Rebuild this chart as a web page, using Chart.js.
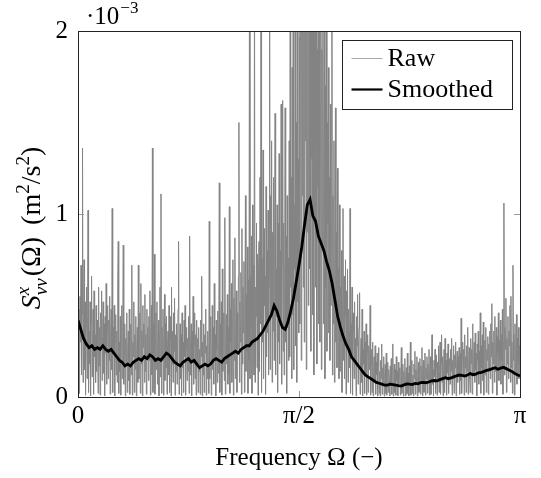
<!DOCTYPE html>
<html>
<head>
<meta charset="utf-8">
<script src="https://cdn.jsdelivr.net/npm/chart.js@4.4.0/dist/chart.umd.min.js"></script>
<style>
  html, body { margin: 0; padding: 0; background: #fff; }
</style>
</head>
<body>
<canvas id="psdChart" width="541" height="478"></canvas>
<script>
// values are in units of 1e-3 m^2/s^2, evenly spaced from 0 to pi
const rawPsd = [
  0.62, 0.20, 0.48, 0.02, 0.55, 0.30, 0.72, 0.12, 0.45, 1.36, 0.08, 0.40, 0.75, 0.15, 0.52, 0.01, 0.38, 0.60, 0.10, 0.44,
  1.02, 0.025, 0.36, 0.18, 0.52, 0.006, 0.40, 0.66, 0.11, 0.30, 0.48, 0.015, 0.58, 0.22, 0.34, 0.08, 0.50, 0.14, 0.42, 0.26,
  0.02, 0.60, 0.17, 0.38, 0.01, 0.46, 0.28, 0.58, 0.09, 0.33, 0.52, 0.13, 0.40, 0.006, 0.44, 0.24, 0.62, 0.07, 0.36, 0.50,
  0.10, 0.42, 0.20, 0.55, 0.015, 0.34, 0.48, 0.15, 1.03, 0.025, 0.38, 0.26, 0.50, 0.006, 0.30, 0.45, 0.12, 0.36, 0.08, 0.58,
  0.85, 0.02, 0.30, 0.14, 0.44, 0.01, 0.28, 0.50, 0.10, 0.35, 0.83, 0.07, 0.24, 0.40, 0.006, 0.32, 0.18, 0.46, 0.025, 0.26,
  0.36, 0.09, 0.48, 0.015, 0.28, 0.40, 0.12, 0.72, 0.01, 0.30, 0.22, 0.52, 0.025, 0.34, 0.15, 0.44, 0.006, 0.26, 0.38, 0.08,
  0.72, 0.10, 0.32, 0.46, 0.02, 0.62, 0.18, 0.36, 0.006, 0.50, 0.27, 0.40, 0.08, 0.56, 0.14, 0.34, 0.015, 0.48, 0.22, 0.38,
  0.09, 0.44, 0.20, 0.58, 0.01, 0.36, 0.50, 0.12, 1.36, 0.025, 0.40, 0.24, 0.78, 0.015, 0.32, 0.46, 0.15, 0.52, 0.07, 0.30,
  0.42, 0.006, 0.34, 0.60, 0.11, 1.11, 0.02, 0.38, 0.20, 0.48, 0.01, 0.30, 0.56, 0.09, 0.40, 0.16, 0.44, 0.015, 0.28, 0.36,
  0.12, 0.50, 0.025, 0.32, 0.44, 0.006, 0.60, 0.18, 0.36, 0.08, 0.46, 0.25, 0.54, 0.01, 0.34, 0.14, 0.40, 0.07, 0.30, 0.48,
  0.85, 0.015, 0.28, 0.40, 0.10, 0.34, 0.006, 0.46, 0.16, 0.30, 0.025, 0.42, 0.22, 0.50, 0.01, 0.26, 0.38, 0.09, 0.32, 0.14,
  0.44, 0.02, 0.88, 0.12, 0.30, 0.40, 0.006, 0.36, 0.20, 0.55, 0.07, 0.28, 0.46, 0.10, 0.34, 0.01, 0.42, 0.18, 0.32, 0.025,
  0.38, 0.14, 0.26, 0.015, 0.42, 0.22, 0.66, 0.006, 0.30, 0.12, 0.40, 0.025, 0.34, 0.24, 0.48, 0.01, 0.28, 0.10, 0.36, 0.18,
  0.02, 0.96, 0.10, 0.32, 0.44, 0.01, 0.28, 0.50, 0.15, 0.38, 0.07, 0.62, 0.20, 0.34, 0.006, 0.42, 0.26, 0.08, 0.47, 0.13,
  0.36, 1.17, 0.025, 0.40, 0.22, 0.52, 0.01, 0.70, 0.14, 0.34, 0.46, 0.09, 0.98, 0.015, 0.30, 0.45, 0.18, 0.56, 0.07, 0.38,
  0.12, 1.04, 0.02, 0.48, 0.30, 0.62, 0.08, 0.42, 0.75, 0.01, 0.54, 0.20, 0.87, 0.10, 0.40, 0.58, 0.025, 0.46, 0.26, 0.66,
  1.50, 0.08, 0.52, 0.30, 0.68, 0.015, 0.92, 0.18, 0.60, 0.35, 0.74, 0.025, 0.48, 1.10, 0.14, 0.56, 0.25, 0.82, 0.02, 0.64,
  0.20, 2.40, 0.10, 0.66, 0.38, 0.88, 0.02, 1.05, 0.28, 0.72, 0.12, 2.30, 0.08, 0.60, 0.44, 0.95, 0.16, 0.78, 0.01, 0.70,
  0.85, 0.14, 1.20, 0.40, 2.50, 0.025, 0.76, 0.30, 1.35, 0.10, 0.92, 0.50, 0.66, 0.015, 1.15, 0.22, 0.80, 0.35, 1.02, 0.12,
  0.60, 2.60, 0.15, 1.10, 0.48, 1.40, 0.08, 0.90, 0.36, 1.20, 0.20, 0.82, 1.55, 0.12, 0.70, 0.44, 1.05, 0.025, 0.95, 0.30,
  1.33, 0.18, 0.80, 0.42, 1.60, 0.07, 0.72, 1.62, 0.25, 0.95, 0.12, 0.68, 1.58, 0.30, 0.88, 0.02, 1.10, 0.38, 0.76, 0.20,
  1.40, 0.22, 2.50, 0.60, 1.20, 0.10, 1.80, 0.45, 3.00, 0.15, 1.05, 0.70, 2.20, 0.28, 1.50, 0.08, 2.40, 0.52, 1.30, 0.35,
  3.20, 0.40, 1.80, 2.60, 0.20, 3.50, 1.10, 2.20, 0.60, 3.80, 0.30, 2.70, 1.40, 3.10, 0.15, 2.40, 0.90, 3.60, 0.50, 2.00,
  2.90, 0.70, 3.40, 0.25, 2.10, 1.30, 3.00, 0.45, 2.50, 0.12, 3.30, 0.95, 2.30, 0.60, 2.80, 0.18, 1.90, 1.15, 3.20, 0.40,
  2.40, 0.30, 1.60, 2.70, 0.15, 1.90, 0.80, 2.20, 0.40, 1.40, 2.50, 0.10, 1.70, 0.60, 2.10, 0.25, 1.50, 0.95, 1.80, 0.35,
  1.20, 0.20, 1.60, 0.50, 0.95, 2.20, 0.12, 1.10, 0.40, 1.40, 0.08, 0.80, 1.58, 0.30, 0.90, 0.16, 1.25, 0.45, 0.70, 0.10,
  1.05, 0.14, 0.60, 0.30, 0.80, 0.025, 0.52, 1.03, 0.20, 0.66, 0.10, 0.44, 0.75, 0.015, 0.58, 0.26, 0.70, 0.08, 0.48, 0.36,
  0.16, 1.03, 0.02, 0.40, 0.24, 0.60, 0.01, 0.36, 0.46, 0.10, 0.52, 0.18, 0.32, 0.006, 0.44, 0.28, 0.56, 0.07, 0.30, 0.38,
  0.57, 0.015, 0.22, 0.32, 0.08, 0.48, 0.006, 0.26, 0.18, 0.36, 0.02, 0.30, 0.12, 0.40, 0.01, 0.24, 0.34, 0.025, 0.28, 0.15,
  0.20, 0.50, 0.01, 0.18, 0.26, 0.025, 0.30, 0.006, 0.16, 0.22, 0.08, 0.28, 0.015, 0.19, 0.12, 0.24, 0.005, 0.17, 0.27, 0.02,
  0.14, 0.006, 0.20, 0.10, 0.29, 0.015, 0.16, 0.08, 0.22, 0.005, 0.13, 0.18, 0.02, 0.24, 0.01, 0.12, 0.19, 0.025, 0.15, 0.09,
  0.006, 0.17, 0.08, 0.21, 0.015, 0.13, 0.29, 0.005, 0.11, 0.18, 0.025, 0.15, 0.01, 0.22, 0.09, 0.14, 0.006, 0.19, 0.07, 0.12,
  0.16, 0.01, 0.12, 0.27, 0.02, 0.10, 0.18, 0.005, 0.14, 0.07, 0.21, 0.006, 0.11, 0.16, 0.015, 0.24, 0.025, 0.13, 0.006, 0.17,
  0.08, 0.30, 0.01, 0.14, 0.20, 0.02, 0.12, 0.006, 0.18, 0.10, 0.25, 0.015, 0.15, 0.07, 0.22, 0.005, 0.13, 0.19, 0.025, 0.16,
  0.21, 0.015, 0.17, 0.09, 0.27, 0.006, 0.14, 0.20, 0.025, 0.12, 0.24, 0.01, 0.16, 0.10, 0.22, 0.02, 0.18, 0.08, 0.26, 0.01,
  0.13, 0.22, 0.015, 0.18, 0.34, 0.07, 0.15, 0.006, 0.20, 0.11, 0.26, 0.02, 0.16, 0.23, 0.01, 0.19, 0.09, 0.28, 0.025, 0.14,
  0.30, 0.015, 0.18, 0.34, 0.08, 0.22, 0.006, 0.15, 0.26, 0.025, 0.32, 0.11, 0.20, 0.01, 0.24, 0.13, 0.29, 0.02, 0.17, 0.21,
  0.07, 0.26, 0.14, 0.32, 0.01, 0.20, 0.10, 0.28, 0.02, 0.23, 0.16, 0.30, 0.006, 0.18, 0.25, 0.08, 0.22, 0.12, 0.27, 0.015,
  0.24, 0.09, 0.43, 0.02, 0.20, 0.30, 0.12, 0.26, 0.01, 0.34, 0.16, 0.22, 0.025, 0.28, 0.14, 0.38, 0.015, 0.19, 0.27, 0.10,
  0.025, 0.32, 0.18, 0.26, 0.015, 0.40, 0.12, 0.22, 0.30, 0.08, 0.35, 0.15, 0.24, 0.006, 0.29, 0.20, 0.36, 0.07, 0.25, 0.13,
  0.46, 0.02, 0.28, 0.16, 0.34, 0.09, 0.41, 0.01, 0.24, 0.31, 0.12, 0.38, 0.025, 0.26, 0.20, 0.33, 0.015, 0.29, 0.14, 0.36,
  0.10, 0.40, 0.22, 0.51, 0.02, 0.30, 0.18, 0.36, 0.08, 0.44, 0.14, 0.28, 0.38, 0.01, 0.33, 0.24, 0.46, 0.09, 0.31, 0.20,
  0.42, 0.07, 0.34, 0.20, 0.48, 0.015, 0.30, 1.06, 0.12, 0.38, 0.26, 0.54, 0.025, 0.32, 0.18, 0.44, 0.10, 0.36, 0.28, 0.50,
  0.08, 0.55, 0.16, 0.30, 0.02, 0.72, 0.20, 0.34, 0.01, 0.40, 0.14, 0.26, 0.45, 0.07, 0.32, 0.18, 0.38, 0.10, 0.28, 0.22
];

// smoothed estimate, also evenly spaced from 0 to pi
const smoothPsd = [
  0.42, 0.37, 0.32, 0.29, 0.27, 0.28, 0.26, 0.27, 0.26, 0.28,
  0.26, 0.25, 0.26, 0.24, 0.22, 0.20, 0.19, 0.17, 0.18, 0.17,
  0.19, 0.20, 0.21, 0.20, 0.22, 0.21, 0.23, 0.22, 0.20, 0.21,
  0.20, 0.22, 0.24, 0.23, 0.21, 0.19, 0.18, 0.17, 0.19, 0.20,
  0.21, 0.19, 0.20, 0.18, 0.16, 0.17, 0.18, 0.17, 0.18, 0.20,
  0.21, 0.20, 0.19, 0.21, 0.22, 0.23, 0.24, 0.25, 0.24, 0.26,
  0.27, 0.28, 0.28, 0.30, 0.31, 0.32, 0.34, 0.36, 0.39, 0.42,
  0.45, 0.50, 0.47, 0.42, 0.38, 0.37, 0.41, 0.47, 0.54, 0.63,
  0.72, 0.82, 0.94, 1.05, 1.08, 0.99, 0.96, 0.88, 0.84, 0.80,
  0.74, 0.69, 0.62, 0.53, 0.44, 0.38, 0.33, 0.29, 0.26, 0.22,
  0.20, 0.18, 0.16, 0.14, 0.12, 0.11, 0.10, 0.09, 0.08, 0.075,
  0.07, 0.065, 0.065, 0.07, 0.068, 0.065, 0.062, 0.060, 0.066, 0.072,
  0.070, 0.068, 0.074, 0.072, 0.078, 0.080, 0.078, 0.082, 0.088, 0.090,
  0.088, 0.095, 0.100, 0.105, 0.100, 0.104, 0.110, 0.116, 0.120, 0.118,
  0.114, 0.120, 0.128, 0.122, 0.125, 0.132, 0.135, 0.140, 0.146, 0.150,
  0.155, 0.160, 0.152, 0.158, 0.162, 0.155, 0.148, 0.140, 0.130, 0.122,
  0.115
];

const xTicks = [0, Math.PI / 2, Math.PI];
const xTickLabels = ['0', 'π/2', 'π'];
const yTicks = [0, 1, 2];

const serif = '"Liberation Serif", "DejaVu Serif", serif';

const toPoints = arr => arr.map((v, i) => ({ x: i * Math.PI / (arr.length - 1), y: v }));

// frame, inner ticks, legend box, exponent and y title
const decorPlugin = {
  id: 'decor',
  afterDraw(chart) {
    const c = chart.ctx;
    const a = chart.chartArea;
    const xs = chart.scales.x, ys = chart.scales.y;
    c.save();

    // inner tick marks
    c.strokeStyle = '#9a9a9a';
    c.lineWidth = 1;
    c.beginPath();
    yTicks.forEach(t => {
      const py = Math.round(ys.getPixelForValue(t)) + 0.5;
      c.moveTo(a.left, py); c.lineTo(a.left + 6, py);
      c.moveTo(a.right, py); c.lineTo(a.right - 6, py);
    });
    xTicks.forEach(t => {
      const px = Math.round(xs.getPixelForValue(t)) + 0.5;
      c.moveTo(px, a.bottom); c.lineTo(px, a.bottom - 6);
      c.moveTo(px, a.top); c.lineTo(px, a.top + 6);
    });
    c.stroke();

    // frame
    c.strokeStyle = '#222';
    c.strokeRect(Math.round(a.left) + 0.5, Math.round(a.top) + 0.5,
      Math.round(a.right - a.left), Math.round(a.bottom - a.top));

    // legend
    const lw = 170, lh = 69;
    const lx = Math.round(a.right - 8 - lw) + 0.5, ly = Math.round(a.top + 9) + 0.5;
    c.fillStyle = '#fff';
    c.fillRect(lx, ly, lw, lh);
    c.strokeStyle = '#222';
    c.strokeRect(lx, ly, lw, lh);
    c.font = '26px ' + serif;
    c.textBaseline = 'middle';
    c.textAlign = 'left';
    chart.data.datasets.forEach((ds, k) => {
      const ey = ly + 18 + k * 31;
      c.strokeStyle = ds.legendColor;
      c.lineWidth = ds.legendWidth;
      c.beginPath();
      c.moveTo(lx + 9, ey); c.lineTo(lx + 40, ey);
      c.stroke();
      c.fillStyle = '#000';
      c.fillText(ds.label, lx + 45, ey + 1);
    });

    // exponent label above the y axis
    c.fillStyle = '#000';
    c.textBaseline = 'alphabetic';
    c.font = '25px ' + serif;
    c.fillText('·10', a.left + 8, a.top - 7);
    const w10 = c.measureText('·10').width;
    c.font = '17px ' + serif;
    c.fillText('−3', a.left + 8 + w10 + 1, a.top - 18);

    // y axis title, rotated
    const big = '28px ' + serif, small = '19px ' + serif;
    const parts = [
      { t: 'S', f: 'italic ' + big, dy: 0 },
      { t: 'x', f: 'italic ' + small, dy: -11, stack: 'νν' },
      { t: '(Ω)', f: big, dy: 0 },
      { t: '(m', f: big, dy: 0, gap: 12 },
      { t: '2', f: small, dy: -11 },
      { t: '/s', f: big, dy: 0 },
      { t: '2', f: small, dy: -11 },
      { t: ')', f: big, dy: 0 }
    ];
    let total = 0;
    parts.forEach(p => {
      c.font = p.f;
      let w = c.measureText(p.t).width;
      if (p.stack) w = Math.max(w, c.measureText(p.stack).width) + 2;
      p.w = w;
      total += w + (p.gap || 0);
    });
    c.translate(31, 228);
    c.rotate(-Math.PI / 2);
    let cx = -total / 2;
    parts.forEach(p => {
      cx += p.gap || 0;
      c.font = p.f;
      c.fillText(p.t, cx, 9 + p.dy);
      if (p.stack) c.fillText(p.stack, cx, 9 + 7);
      cx += p.w;
    });

    c.restore();
  }
};

const ctx = document.getElementById('psdChart');

new Chart(ctx, {
  type: 'line',
  data: {
    datasets: [{
      label: 'Raw',
      data: toPoints(rawPsd),
      borderColor: 'rgb(132, 132, 132)',
      legendColor: 'rgb(170, 170, 170)',
      legendWidth: 1,
      borderWidth: 1,
      pointRadius: 0,
      tension: 0,
      order: 2
    }, {
      label: 'Smoothed',
      data: toPoints(smoothPsd),
      borderColor: '#000',
      legendColor: '#000',
      legendWidth: 2.2,
      borderWidth: 2.8,
      pointRadius: 0,
      tension: 0,
      order: 1
    }]
  },
  options: {
    responsive: false,
    animation: false,
    layout: { padding: { left: 0, right: 21, top: 31, bottom: 0 } },
    plugins: {
      legend: { display: false },
      tooltip: { enabled: false }
    },
    scales: {
      x: {
        type: 'linear',
        min: 0,
        max: Math.PI,
        afterBuildTicks: s => { s.ticks = xTicks.map(v => ({ value: v })); },
        afterFit: s => { s.height = 81; },
        grid: { display: false, drawTicks: false },
        border: { display: false },
        ticks: {
          callback: (v, i) => xTickLabels[i],
          color: '#000',
          font: { family: serif, size: 25 },
          maxRotation: 0,
          padding: 4
        },
        title: {
          display: true,
          text: 'Frequency Ω (−)',
          color: '#000',
          font: { family: serif, size: 25 },
          padding: { top: 4, bottom: 5 }
        }
      },
      y: {
        min: 0,
        max: 2,
        afterBuildTicks: s => { s.ticks = yTicks.map(v => ({ value: v })); },
        afterFit: s => { s.width = 78; },
        grid: { display: false, drawTicks: false },
        border: { display: false },
        ticks: {
          color: '#000',
          font: { family: serif, size: 25 },
          padding: 10
        }
      }
    }
  },
  plugins: [decorPlugin]
});
</script>
</body>
</html>
